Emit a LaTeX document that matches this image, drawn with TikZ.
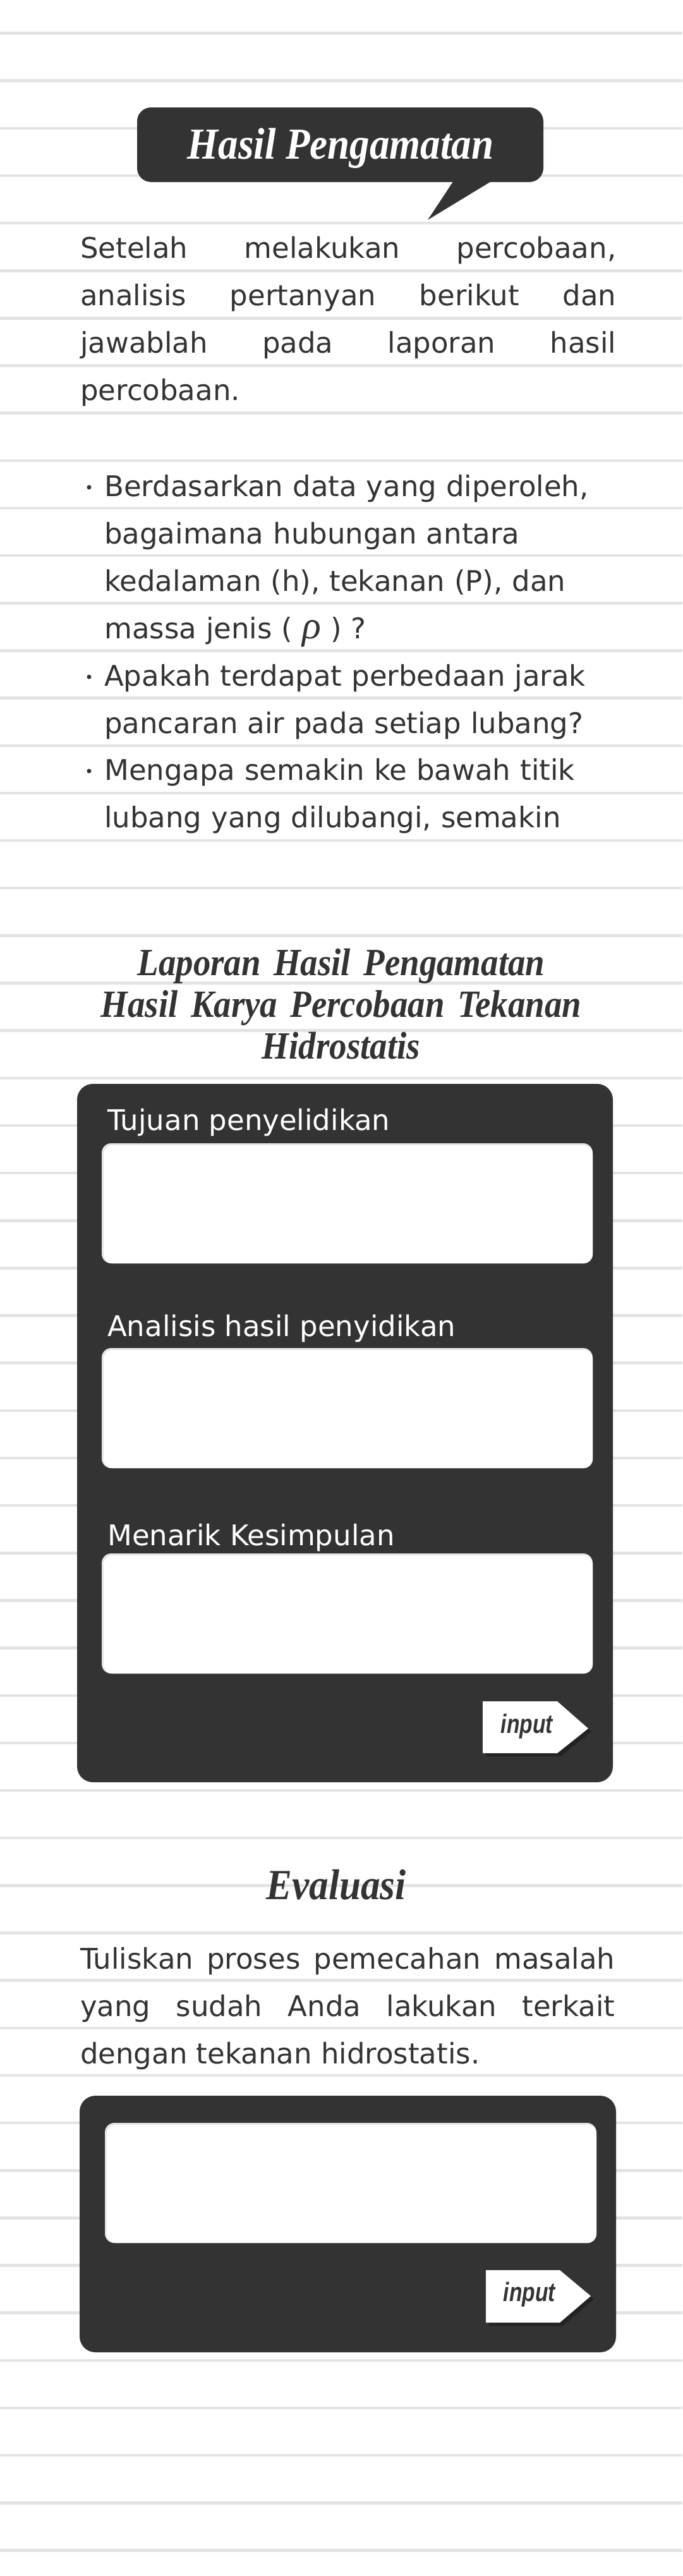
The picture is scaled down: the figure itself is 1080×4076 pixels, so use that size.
\documentclass[tikz,border=0pt]{standalone}
\usepackage{fontspec}
\setmainfont{DejaVu Sans}
\newfontfamily\judulfont{Liberation Serif}[FakeStretch=0.9]
\newfontfamily\rhofont{Liberation Serif}
\newfontfamily\tombolfont{Liberation Sans}[FakeStretch=0.8]
\definecolor{gelap}{HTML}{333333}
\definecolor{garisabu}{HTML}{E3E3E3}
\definecolor{bayang}{HTML}{222222}
\definecolor{tepikotak}{HTML}{E6E6E6}
\begin{document}
\begin{tikzpicture}[x=1pt, y=-1pt,
  garis/.style={garisabu, line width=4.5pt},
  panel/.style={fill=gelap, rounded corners=25pt},
  teks/.style={inner sep=0pt, text=gelap, font=\fontsize{45}{75}\selectfont},
  titik/.style={circle, fill=gelap, inner sep=0pt, minimum size=7pt},
  label/.style={inner sep=0pt, text=white, font=\fontsize{45}{75}\selectfont, anchor=base west},
  judul/.style={inner sep=0pt, font=\judulfont\bfseries\itshape, anchor=base}]
\useasboundingbox (0,0) rectangle (1080,4076);
\fill[white] (0,0) rectangle (1080,4076);
% ruled paper
\foreach \i in {0,...,53}
  \draw[garis] (0,{52.5+75.15*\i}) -- (1080,{52.5+75.15*\i});

% speech bubble
\fill[gelap, rounded corners=22pt] (217,170) rectangle (860,288);
\fill[gelap] (718,286) -- (677,348) -- (779,286) -- cycle;
\node[judul, text=white, font=\judulfont\bfseries\itshape\fontsize{70}{70}\selectfont] (judulHasil) at (539,251) {Hasil Pengamatan};

\node[teks, text width=848pt, align=justify, anchor=base west] (pengantar) at (127,408)
  {Setelah melakukan percobaan,\linebreak analisis pertanyan berikut dan\linebreak jawablah pada laporan hasil\linebreak percobaan.};

% pertanyaan
\node[titik] (titik1) at (141,771) {};
\node[teks, text width=820pt, align=left, anchor=base west] (soal1) at (165,785)
  {Berdasarkan data yang diperoleh,\\ bagaimana hubungan antara\\ kedalaman (h), tekanan (P), dan\\ massa jenis ( {\rhofont\itshape\fontsize{62}{62}\selectfont ρ} ) ?};
\node[titik] (titik2) at (141,1071) {};
\node[teks, text width=820pt, align=left, anchor=base west] (soal2) at (165,1085)
  {Apakah terdapat perbedaan jarak\\ pancaran air pada setiap lubang?};
\node[titik] (titik3) at (141,1220) {};
\node[teks, text width=820pt, align=left, anchor=base west] (soal3) at (165,1234)
  {Mengapa semakin ke bawah titik\\ lubang yang dilubangi, semakin};

% laporan
\node[judul, text=gelap, text width=1000pt, align=center, font=\judulfont\bfseries\itshape\fontsize{61}{66}\selectfont] (judulLaporan) at (540,1543)
  {Laporan Hasil Pengamatan\\ Hasil Karya Percobaan Tekanan\\ Hidrostatis};
\fill[panel] (122,1715) rectangle (970,2820);
\node[label] (tujuan) at (170,1788) {Tujuan penyelidikan};
\fill[tepikotak, rounded corners=15pt] (161,1809) rectangle (938,1999);
\fill[white, rounded corners=14pt] (164,1812) rectangle (938,1999);
\node[label] (analisis) at (170,2114) {Analisis hasil penyidikan};
\fill[tepikotak, rounded corners=15pt] (161,2133) rectangle (938,2323);
\fill[white, rounded corners=14pt] (164,2136) rectangle (938,2323);
\node[label] (simpulan) at (170,2445) {Menarik Kesimpulan};
\fill[tepikotak, rounded corners=15pt] (161,2458) rectangle (938,2648);
\fill[white, rounded corners=14pt] (164,2461) rectangle (938,2648);
\fill[bayang] (769,2697) -- (887,2697) -- (936,2740) -- (887,2779) -- (769,2779) -- cycle;
\fill[white] (764,2692) -- (882,2692) -- (931,2735) -- (882,2774) -- (764,2774) -- cycle;
\node[inner sep=0pt, text=gelap, font=\tombolfont\bfseries\itshape\fontsize{42}{42}\selectfont, anchor=base] (tombolA) at (834,2742) {input};

% evaluasi
\node[judul, text=gelap, font=\judulfont\bfseries\itshape\fontsize{68}{68}\selectfont] (judulEvaluasi) at (532,3005) {Evaluasi};
\node[teks, text width=846pt, align=justify, anchor=base west] (tugas) at (127,3115)
  {Tuliskan proses pemecahan masalah\linebreak yang sudah Anda lakukan terkait\linebreak dengan tekanan hidrostatis.};
\fill[panel] (126,3316) rectangle (975,3722);
\fill[tepikotak, rounded corners=15pt] (166,3359) rectangle (944,3549);
\fill[white, rounded corners=14pt] (169,3362) rectangle (944,3549);
\fill[bayang] (774,3597) -- (891,3597) -- (940,3638) -- (891,3680) -- (774,3680) -- cycle;
\fill[white] (769,3592) -- (886,3592) -- (935,3633) -- (886,3675) -- (769,3675) -- cycle;
\node[inner sep=0pt, text=gelap, font=\tombolfont\bfseries\itshape\fontsize{42}{42}\selectfont, anchor=base] (tombolB) at (838,3641) {input};
\end{tikzpicture}
\end{document}
